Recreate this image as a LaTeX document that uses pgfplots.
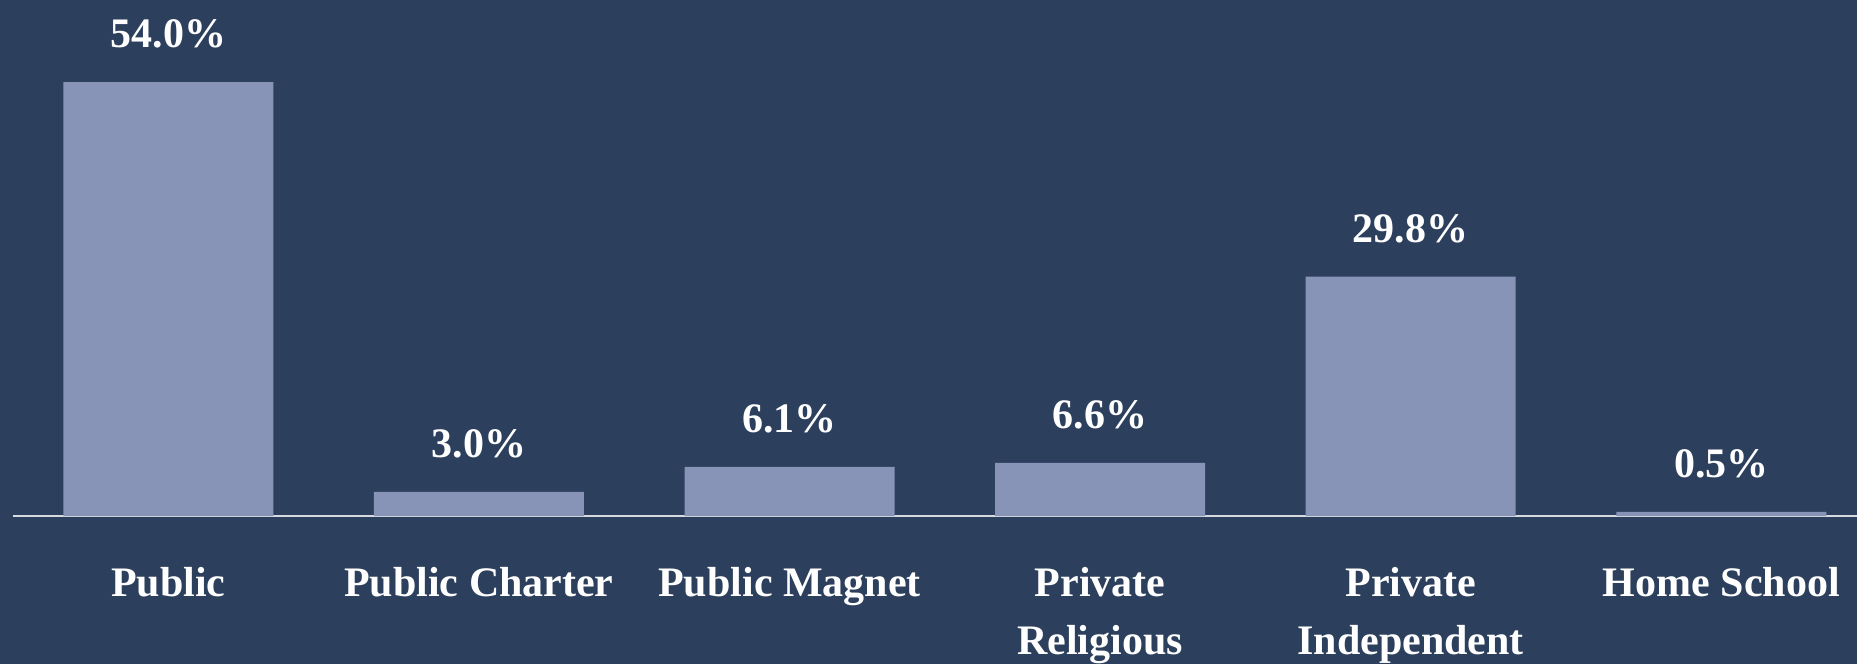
\documentclass[border=0pt]{standalone}
\usepackage{pgfplots}
\pgfplotsset{compat=1.18}
\usepackage{fontspec}
\setmainfont{Liberation Serif}
\definecolor{bg}{RGB}{44,64,94}
\definecolor{barc}{RGB}{136,147,184}
\definecolor{axl}{RGB}{215,218,225}
\begin{document}
\begin{tikzpicture}
\useasboundingbox (0,0) rectangle (928.5pt,332pt);
\fill[bg] (0,0) rectangle (928.5pt,332pt);
\begin{axis}[
  at={(6.5pt,74pt)}, anchor=south west,
  scale only axis, width=922.5pt, height=241pt,
  xmin=-0.5, xmax=5.44, ymin=0, ymax=60,
  axis y line=none, axis x line*=bottom,
  x axis line style={-, color=axl, line width=0.6pt},
  xtick={0,1,2,3,4,5}, major tick length=0pt,
  xticklabels={Public,Public Charter,Public Magnet,Private\\Religious,Private\\Independent,Home School},
  xticklabel style={font=\fontsize{21}{29}\selectfont\bfseries, text=white, align=center, anchor=north, yshift=-22pt},
  ytick=\empty,
  clip=false,
  ybar, bar width=105pt,
  nodes near coords={\pgfmathprintnumber[fixed,fixed zerofill,precision=1,assume math mode=true]{\pgfplotspointmeta}\%},
  nodes near coords style={font=\fontsize{21}{25}\selectfont\bfseries, text=white, anchor=center, yshift=24pt},
]
\addplot[fill=barc, draw=none] coordinates {(0,54.0) (1,3.0) (2,6.1) (3,6.6) (4,29.8) (5,0.5)};
\end{axis}
\end{tikzpicture}
\end{document}
